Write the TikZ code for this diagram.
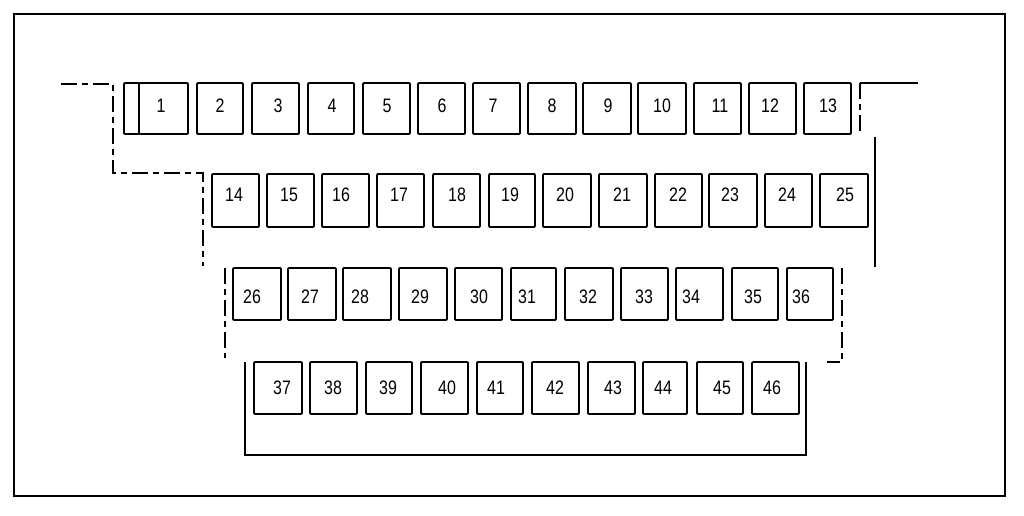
\documentclass[tikz,border=0pt]{standalone}
\usepackage{fontspec}
\newfontfamily\lblfont[FakeStretch=0.82]{Liberation Sans}
\tikzset{
  fuse/.style={draw=black, line width=1.8pt, inner sep=0pt, outer sep=0pt, rounded corners=1pt},
  num/.style={inner sep=0pt, font=\lblfont\fontsize{19.5}{19.5}\selectfont},
  frame/.style={draw=black, line width=2.6pt},
  bracket/.style={draw=black, line width=1.3pt},
  brokenline/.style={draw=black, line width=1.3pt, dash pattern=on 16pt off 5pt on 6pt off 5pt},
}
\begin{document}
\begin{tikzpicture}[x=1pt,y=-1pt]
\useasboundingbox (0,0) rectangle (1024,515);
\fill[white] (0,0) rectangle (1024,515);
% outer frame
\draw[frame] (14,14) rectangle (1005,496);
% row 1 (y 83..134)
\foreach \n/\l/\r/\tx in {1/139/188/161, 2/197/243/220, 3/252/299/278, 4/308/354/332, 5/363/410/387, 6/418/465/442, 7/473/520/493, 8/528/576/552, 9/583/631/608, 10/638/686/662, 11/694/741/720, 12/749/796/770, 13/804/851/828}{
  \node[fuse, minimum width={(\r-\l)*1pt}, minimum height=51pt] (f\n) at ({(\l+\r)/2},108.5) {};
  \node[num] (n\n) at (\tx,106) {\n};
}
% strip left of fuse 1
\node[fuse, minimum width=15pt, minimum height=51pt] (f1s) at (131.5,108.5) {};
% row 2 (y 174..227)
\foreach \n/\l/\r/\tx in {14/212/259/234, 15/267/314/289, 16/322/369/341, 17/377/424/399, 18/433/480/457, 19/489/535/510, 20/543/591/565, 21/599/647/622, 22/655/702/678, 23/709/757/730, 24/765/812/787, 25/820/868/845}{
  \node[fuse, minimum width={(\r-\l)*1pt}, minimum height=53pt] (f\n) at ({(\l+\r)/2},200.5) {};
  \node[num] (n\n) at (\tx,194.5) {\n};
}
% row 3 (y 268..320)
\foreach \n/\l/\r/\tx in {26/233/281/252, 27/288/336/310, 28/343/391/360, 29/399/447/420, 30/455/502/479, 31/511/556/527, 32/565/613/588, 33/621/668/644, 34/676/723/691, 35/732/778/753, 36/787/833/801}{
  \node[fuse, minimum width={(\r-\l)*1pt}, minimum height=52pt] (f\n) at ({(\l+\r)/2},294) {};
  \node[num] (n\n) at (\tx,296.5) {\n};
}
% row 4 (y 362..414)
\foreach \n/\l/\r/\tx in {37/254/302/282, 38/310/357/333, 39/366/412/388, 40/421/468/447, 41/477/523/496, 42/532/579/555, 43/588/635/613, 44/643/687/663, 45/697/743/722, 46/752/799/772}{
  \node[fuse, minimum width={(\r-\l)*1pt}, minimum height=52pt] (f\n) at ({(\l+\r)/2},388) {};
  \node[num] (n\n) at (\tx,388) {\n};
}
% outline brackets
\coordinate (a1) at (61,84);
\coordinate (a2) at (113,84);
\coordinate (a3) at (113,173);
\coordinate (a4) at (203,173);
\coordinate (a5) at (203,266);
\draw[brokenline] (a1) -- (a2) -- (a3) -- (a4) -- (a5);
\coordinate (b1) at (918,83);
\coordinate (b2) at (860,83);
\coordinate (b3) at (860,132);
\draw[bracket] (b1) -- (b2);
\draw[brokenline] (b2) -- (b3);
\coordinate (c1) at (875,137);
\coordinate (c2) at (875,267);
\draw[bracket] (c1) -- (c2);
\coordinate (d1) at (225,268);
\coordinate (d2) at (225,358);
\draw[brokenline] (d1) -- (d2);
\coordinate (e1) at (842,268);
\coordinate (e2) at (842,362);
\coordinate (e3) at (827,362);
\draw[brokenline] (e1) -- (e2) -- (e3);
\coordinate (g1) at (245,362);
\coordinate (g2) at (245,455);
\coordinate (g3) at (806,455);
\coordinate (g4) at (806,362);
\draw[bracket] (g1) -- (g2) -- (g3) -- (g4);
\end{tikzpicture}
\end{document}
